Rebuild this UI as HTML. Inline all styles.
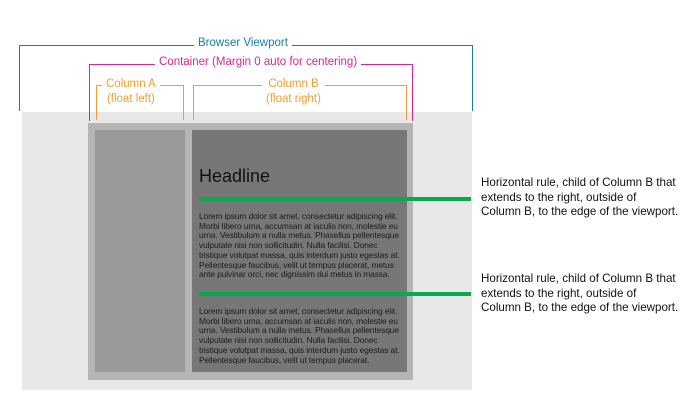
<!DOCTYPE html>
<html><head><style>
body{margin:0;width:700px;height:418px;background:#fff;position:relative;overflow:hidden;font-family:"Liberation Sans",sans-serif}
div{position:absolute;box-sizing:border-box}
.l{font-size:11.5px;text-align:center;white-space:nowrap;background:#fff;padding:0 4px}
.p{left:199px;font-size:8.4px;line-height:9.7px;color:#1a1a1a;white-space:nowrap;letter-spacing:-0.1px}
.r{left:481px;font-size:11.6px;line-height:14.5px;color:#111;white-space:nowrap}
</style></head><body>
<div style="left:22px;top:112px;width:450px;height:278px;background:#e8e8e8"></div>
<div style="left:88px;top:123px;width:325px;height:257px;background:#b5b5b5"></div>
<div style="left:95px;top:130px;width:90px;height:242px;background:#999"></div>
<div style="left:192px;top:130px;width:215px;height:242px;background:#777"></div>
<div style="left:199px;top:166px;font-size:18px;color:#111">Headline</div>
<div style="left:199px;top:197px;width:272px;height:4px;background:#0aa84f"></div>
<div style="left:199px;top:292px;width:272px;height:4px;background:#0aa84f"></div>
<div class="p" style="top:212px">Lorem ipsum dolor sit amet, consectetur adipiscing elit.<br>Morbi libero urna, accumsan at iaculis non, molestie eu<br>urna. Vestibulum a nulla metus. Phasellus pellentesque<br>vulputate nisi non sollicitudin. Nulla facilisi. Donec<br>tristique volutpat massa, quis interdum justo egestas at.<br>Pellentesque faucibus, velit ut tempus placerat, metus<br>ante pulvinar orci, nec dignissim dui metus in massa.</div>
<div class="p" style="top:307px">Lorem ipsum dolor sit amet, consectetur adipiscing elit.<br>Morbi libero urna, accumsan at iaculis non, molestie eu<br>urna. Vestibulum a nulla metus. Phasellus pellentesque<br>vulputate nisi non sollicitudin. Nulla facilisi. Donec<br>tristique volutpat massa, quis interdum justo egestas at.<br>Pellentesque faucibus, velit ut tempus placerat.</div>
<!-- brackets -->
<div style="left:19px;top:45px;width:454px;height:66px;border:1px solid #1a7d9b;border-bottom:none"></div>
<div class="l" style="left:194px;top:37px;color:#1a7d9b">Browser Viewport</div>
<div style="left:89px;top:64px;width:324px;height:57px;border:1px solid #d6288f;border-bottom:none"></div>
<div class="l" style="left:155px;top:56px;color:#d6288f">Container (Margin 0 auto for centering)</div>
<div style="left:96px;top:85px;width:88px;height:35px;border:1px solid #f0a030;border-bottom:none"></div>
<div class="l" style="left:102px;top:77px;color:#f0a030;line-height:15px">Column A<br>(float left)</div>
<div style="left:193px;top:85px;width:214px;height:35px;border:1px solid #f0a030;border-bottom:none"></div>
<div class="l" style="left:262px;top:77px;color:#f0a030;line-height:15px">Column B<br>(float right)</div>
<div class="r" style="top:176px">Horizontal rule, child of Column B that<br>extends to the right, outside of<br>Column B, to the edge of the viewport.</div>
<div class="r" style="top:272px">Horizontal rule, child of Column B that<br>extends to the right, outside of<br>Column B, to the edge of the viewport.</div>
</body></html>
